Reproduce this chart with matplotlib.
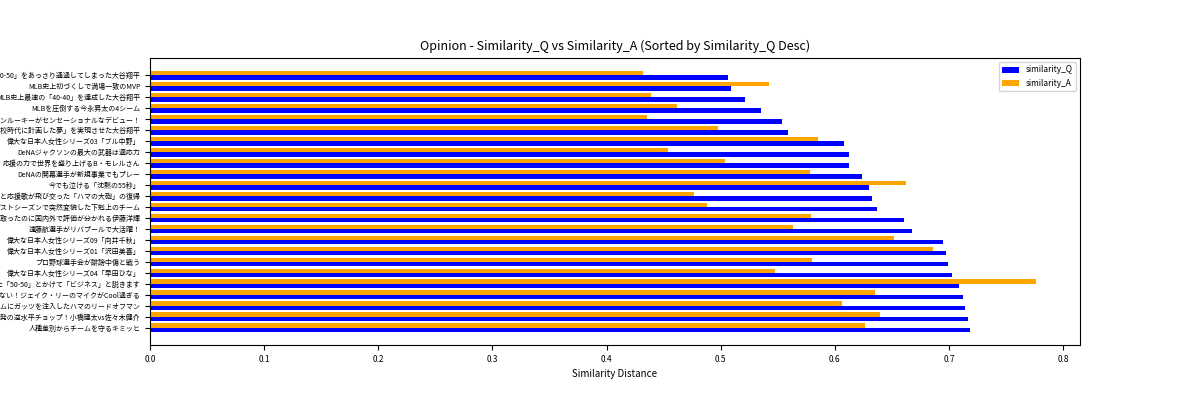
import matplotlib
matplotlib.use("Agg")
import matplotlib.pyplot as plt
import numpy as np

plt.rcParams['font.family'] = ['Noto Sans CJK JP', 'DejaVu Sans']

labels = [
    "大谷翔平が月間記録と同日に「50-50」をあっさり通過してしまった大谷翔平",
    "MLB史上初づくしで満場一致のMVP",
    "MLB史上最速の「40-40」を達成した大谷翔平",
    "MLBを圧倒する今永昇太の4シーム",
    "ハマのゴールデンルーキーがセンセーショナルなデビュー！",
    "MLB7年で「高校時代に計画した夢」を実現させた大谷翔平",
    "偉大な日本人女性シリーズ03「ブル中野」",
    "DeNAジャクソンの最大の武器は適応力",
    "応援の力で世界を盛り上げるB・モレルさん",
    "DeNAの開幕選手が新規事業でもプレー",
    "今でも泣ける「沈黙の55秒」",
    "罵声と応援歌が飛び交った「ハマの大砲」の復帰",
    "ポストシーズンで突然変貌した下剋上のチーム",
    "ブンデスリーガへの移籍を勝ち取ったのに国内外で評価が分かれる伊藤洋輝",
    "遠藤航選手がリバプールで大活躍！",
    "偉大な日本人女性シリーズ09「向井千秋」",
    "偉大な日本人女性シリーズ01「沢田美喜」",
    "プロ野球選手会が誹謗中傷と戦う",
    "偉大な日本人女性シリーズ04「早田ひな」",
    "大谷翔平だからこそ達成できた「50-50」とかけて「ビジネス」と説きます",
    "Swingだけじゃない！ジェイク・リーのマイクがCool過ぎる",
    "大一番でチームにガッツを注入したハマのリードオフマン",
    "歴史を叩いた218発の逆水平チョップ！小橋建太vs佐々木健介",
    "人種差別からチームを守るキミッヒ",
]
similarity_Q = [0.506, 0.509, 0.521, 0.535, 0.554, 0.559, 0.608, 0.612, 0.612, 0.624,
                0.630, 0.633, 0.637, 0.661, 0.668, 0.695, 0.697, 0.699, 0.703, 0.709,
                0.712, 0.714, 0.717, 0.718]
similarity_A = [0.432, 0.542, 0.439, 0.462, 0.435, 0.498, 0.585, 0.454, 0.504, 0.578,
                0.662, 0.477, 0.488, 0.579, 0.563, 0.652, 0.686, 0.580, 0.548, 0.776,
                0.635, 0.606, 0.640, 0.626]

fig, ax = plt.subplots(figsize=(12, 4), dpi=100)
fig.subplots_adjust(left=0.125, right=0.9, top=0.855, bottom=0.137)
y = np.arange(len(labels))
h = 0.4
ax.barh(y + h / 2, similarity_Q, height=h, color='blue', label='similarity_Q')
ax.barh(y - h / 2, similarity_A, height=h, color='orange', label='similarity_A')
ax.set_yticks(y)
ax.set_yticklabels(labels, fontsize=5)
ax.tick_params(axis='x', labelsize=6)
ax.invert_yaxis()
ax.set_xlabel('Similarity Distance', fontsize=7)
ax.set_title('Opinion - Similarity_Q vs Similarity_A (Sorted by Similarity_Q Desc)', fontsize=9)
ax.legend(loc='upper right', fontsize=6)
fig.savefig('out.png')
